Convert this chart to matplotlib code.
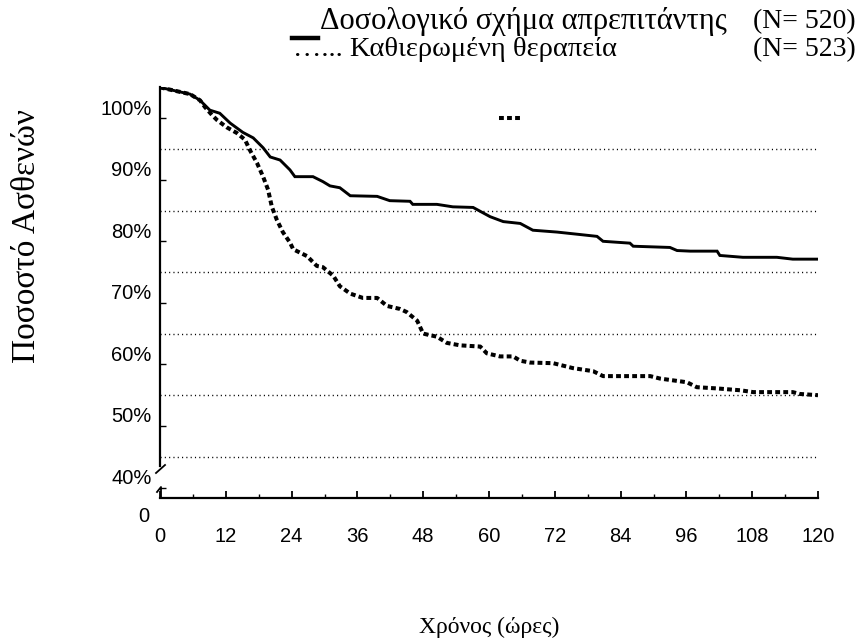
import matplotlib
matplotlib.use("Agg")
import matplotlib.pyplot as plt
from matplotlib.lines import Line2D
import matplotlib.transforms as mtransforms

# Kaplan-Meier style curves (hours, % of patients)
hours_aprep = [0, 5.5, 7.3, 9.1, 10.9, 12.8, 15.1, 17.0, 18.8, 20.1, 21.9, 23.7, 24.6, 27.9,
               29.7, 31.0, 32.8, 34.7, 39.6, 41.9, 45.6, 46.1, 50.5, 53.4, 57.1, 60.2, 62.6,
               65.7, 68.0, 72.4, 76.6, 79.7, 80.8, 85.7, 86.3, 93.0, 94.3, 96.7, 101.6,
               102.1, 106.3, 112.5, 115.4, 120]
pct_aprep = [100, 98.9, 97.9, 96.3, 95.8, 94.2, 92.7, 91.8, 90.2, 88.7, 88.2, 86.6, 85.5, 85.5,
             84.7, 84.0, 83.7, 82.4, 82.3, 81.6, 81.5, 81.0, 81.0, 80.6, 80.5, 79.0, 78.2,
             77.9, 76.8, 76.5, 76.1, 75.8, 75.0, 74.7, 74.2, 74.0, 73.5, 73.4, 73.4,
             72.7, 72.4, 72.4, 72.1, 72.1]

hours_std = [0, 5.5, 7.3, 8.2, 9.5, 10.4, 12.2, 14.0, 15.5, 16.4, 17.7, 18.8, 19.7, 20.4,
             21.3, 22.4, 23.7, 24.3, 26.8, 28.6, 29.7, 31.6, 32.8, 34.7, 37.0, 39.6, 41.4,
             43.8, 45.0, 46.9, 48.0, 50.5, 52.3, 54.7, 58.4, 59.6, 62.0, 64.4, 65.7, 67.5,
             71.7, 75.3, 79.0, 80.8, 89.4, 91.2, 96.1, 97.9, 101.6, 105.8, 108.2, 115.4,
             116.7, 120]
pct_std = [100, 98.9, 97.9, 96.8, 95.5, 94.7, 93.5, 92.6, 91.5, 89.8, 87.7, 85.5, 83.4, 80.6,
           78.5, 76.5, 74.8, 73.7, 72.6, 71.0, 70.8, 69.4, 67.7, 66.5, 65.8, 65.8, 64.5,
           64.0, 63.5, 62.1, 60.0, 59.5, 58.5, 58.1, 57.9, 56.8, 56.3, 56.3, 55.6, 55.3,
           55.2, 54.4, 53.9, 53.1, 53.1, 52.7, 52.1, 51.3, 51.1, 50.8, 50.5, 50.5,
           50.2, 50.0]

grid_levels = [90, 80, 70, 60, 50, 40]
ytick_pos = [95, 85, 75, 65, 55, 45, 35]
ytick_labels = ['100%', '90%', '80%', '70%', '60%', '50%', '40%']
xticks = list(range(0, 121, 12))

legend_aprep = 'Δοσολογικό σχήμα απρεπιτάντης'
legend_std = '…... Καθιερωμένη θεραπεία'
n_aprep = '(N= 520)'
n_std = '(N= 523)'

W, H = 861, 643
fig = plt.figure(figsize=(W / 100, H / 100), dpi=100)
ax = fig.add_axes([160 / W, 1 - 498 / H, 658 / W, (498 - 87.4) / H])

ymin, ymax = 33.3, 100
ax.set_xlim(0, 120)
ax.set_ylim(ymin, ymax)

for g in grid_levels:
    ax.axhline(g, color='black', lw=1.0, ls=(0, (0.8, 2.3)), zorder=1)

ax.plot(hours_aprep, pct_aprep, color='black', lw=2.1, solid_joinstyle='miter', zorder=3)
std_line, = ax.plot(hours_std, pct_std, color='black', lw=2.9, ls=(0, (1.2, 0.8)), zorder=3)

# axes styling
for s in ['top', 'right']:
    ax.spines[s].set_visible(False)
ax.spines['left'].set_linewidth(1.6)
ax.spines['bottom'].set_linewidth(1.6)
ax.spines['left'].set_bounds(38.5, ymax)

sans = 'Liberation Sans'
serif = 'Liberation Serif'

ax.set_xticks(xticks)
ax.set_xticks(range(6, 120, 12), minor=True)
ax.tick_params(axis='x', which='major', direction='in', length=5, width=1.3, pad=21,
               labelsize=14.5)
ax.tick_params(axis='x', which='minor', direction='in', length=3, width=1.0)
for lab in ax.get_xticklabels():
    lab.set_family(sans)

ax.set_yticks(ytick_pos)
ax.set_yticklabels(ytick_labels)
ax.tick_params(axis='y', direction='in', length=4, width=1.0, pad=6, labelsize=14.5)
off = mtransforms.ScaledTranslation(0, 11 / 100, fig.dpi_scale_trans)
for lab in ax.get_yticklabels():
    lab.set_family(sans)
    lab.set_transform(lab.get_transform() + off)

# axis break on the y axis
px = 120 / 658
py = (ymax - ymin) / (498 - 87.4)
ax.plot([-4 * px, 5 * px], [ymax - (473 - 87.4) * py, ymax - (465 - 87.4) * py],
        color='black', lw=1.3, clip_on=False)
ax.plot([-3 * px, 1 * px, 1 * px], [ymax - (492 - 87.4) * py, ymax - (487 - 87.4) * py, ymin],
        color='black', lw=1.3, clip_on=False)

ax.annotate('0', xy=(0, ymin), xytext=(-16 * 0.72, -19 * 0.72), textcoords='offset points',
            ha='center', va='center', fontsize=14.5, family=sans)

# stray legend handle inside the plot
fig.legend([std_line], [''], loc='center', bbox_to_anchor=(510 / W, 1 - 119 / H),
           frameon=False, handlelength=1.6, handletextpad=0, borderpad=0, fontsize=10)

# legend at the top
fig.add_artist(Line2D([292 / W, 318 / W], [1 - 38 / H, 1 - 38 / H], color='black', lw=3.2))
fig.text(320 / W, 1 - 22 / H, legend_aprep, family=serif, fontsize=22, ha='left', va='center')
fig.text(856 / W, 1 - 22 / H, n_aprep, family=serif, fontsize=20, ha='right', va='center')
fig.text(293 / W, 1 - 50 / H, legend_std, family=serif, fontsize=20.5, ha='left', va='center')
fig.text(856 / W, 1 - 50 / H, n_std, family=serif, fontsize=20, ha='right', va='center')

fig.text(27 / W, 1 - 236 / H, 'Ποσοστό Ασθενών', family=serif, fontsize=24,
         rotation=90, ha='center', va='center')
fig.text(489 / W, 1 - 627 / H, 'Χρόνος (ώρες)', family=serif, fontsize=17,
         ha='center', va='center')

fig.savefig('out.png', dpi=100)
